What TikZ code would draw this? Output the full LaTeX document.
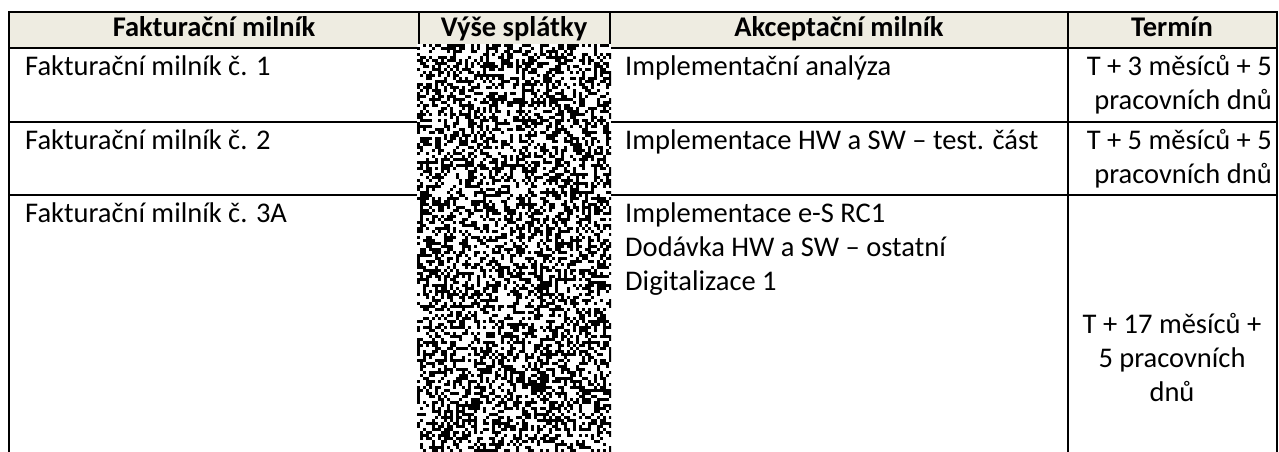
\documentclass[tikz,border=0pt]{standalone}
\usepackage{fontspec}
\setmainfont{Carlito}
\definecolor{headbg}{HTML}{EEECE1}
\begin{document}
\begin{tikzpicture}[x=1pt,y=-1pt,
  grid/.style={line width=1.8pt,black},
  celltxt/.style={inner sep=0pt,anchor=base west,font=\fontsize{28.5}{34}\selectfont},
  rtxt/.style={inner sep=0pt,anchor=base east,font=\fontsize{28.5}{34}\selectfont},
  ctxt/.style={inner sep=0pt,anchor=base,font=\fontsize{28.5}{34}\selectfont},
  headtxt/.style={inner sep=0pt,anchor=base,font=\fontsize{28.5}{34}\selectfont\bfseries}]
\useasboundingbox (0,0) rectangle (1279,452);
\fill[white] (0,0) rectangle (1279,452);
% header background
\fill[headbg] (9,12) rectangle (1277,48);
% grid
\draw[grid] (9,12) -- (1277,12);
\draw[grid] (9,48) -- (1277,48);
\draw[grid] (9,122) -- (1277,122);
\draw[grid] (9,195) -- (1277,195);
\foreach \xx in {9,419,610,1068,1277} \draw[grid] (\xx,11.1) -- (\xx,452);
% header texts
\node[headtxt] (h1) at (214,37) {Fakturační milník};
\node[headtxt] (h2) at (514,37) {Výše splátky};
\node[headtxt] (h3) at (839,37) {Akceptační milník};
\node[headtxt] (h4) at (1172,37) {Termín};
% column 1
\node[celltxt] (f1) at (25,75) {Fakturační milník č. 1};
\node[celltxt] (f2) at (25,149) {Fakturační milník č. 2};
\node[celltxt] (f3) at (25,222) {Fakturační milník č. 3A};
% column 3
\node[celltxt] (a1) at (625,75) {Implementační analýza};
\node[celltxt] (a2) at (625,149) {Implementace HW a SW – test. část};
\node[celltxt] (a3a) at (625,222) {Implementace e-S RC1};
\node[celltxt] (a3b) at (625,256) {Dodávka HW a SW – ostatní};
\node[celltxt] (a3c) at (625,290) {Digitalizace 1};
% column 4
\node[rtxt] (t1a) at (1272,75) {T + 3 měsíců + 5};
\node[rtxt] (t1b) at (1272,109) {pracovních dnů};
\node[rtxt] (t2a) at (1272,149) {T + 5 měsíců + 5};
\node[rtxt] (t2b) at (1272,183) {pracovních dnů};
\node[ctxt] (t3a) at (1172,333) {T + 17 měsíců +};
\node[ctxt] (t3b) at (1172,367) {5 pracovních};
\node[ctxt] (t3c) at (1172,401) {dnů};
% redaction noise
\begin{scope}
\clip (417,44) rectangle (611,452);
\fill[white] (417,44) rectangle (611,452);
\pgfmathsetseed{4711}
\foreach \i in {0,...,64}{
  \foreach \j in {0,...,136}{
    \pgfmathtruncatemacro\bb{rnd<0.47}
    \ifnum\bb=1 \fill[black] (417+\i*3,44+\j*3) rectangle ++(3,3);\fi
  }
}
\end{scope}
\end{tikzpicture}
\end{document}
